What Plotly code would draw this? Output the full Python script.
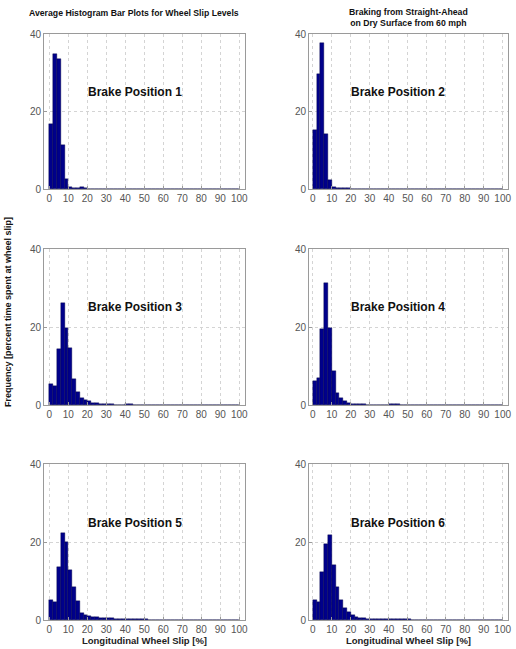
import plotly.graph_objects as go

# Bin centers (2 % wide bins from 0 to 100)
bin_centers = [1 + 2 * i for i in range(50)]

def pad(vals):
    return vals + [0.0] * (50 - len(vals))

pos1 = pad([16.8, 34.8, 33.5, 11.4, 2.6, 0.6, 0.3, 0.2, 0.5, 0.3, 0.1, 0.05])
pos2 = pad([15.1, 29.7, 37.8, 14.1, 2.3, 0.6, 0.3, 0.2, 0.3, 0.3, 0.1, 0.05])
pos3 = pad([5.4, 4.9, 14.3, 26.2, 19.7, 14.7, 6.6, 3.4, 1.7, 1.2, 0.9, 0.6, 0.45, 0.35, 0.25,
            0.2, 0.15, 0.12, 0.1, 0.1, 0.15, 0.3, 0.1, 0.08, 0.06, 0.05, 0.05, 0.04, 0.04, 0.04,
            0.03, 0.03, 0.03, 0.03, 0.05])
pos4 = pad([6.2, 7.0, 19.4, 31.4, 19.7, 8.7, 3.2, 1.7, 1.0, 0.6, 0.35, 0.25, 0.3, 0.15, 0.1,
            0.1, 0.08, 0.08, 0.06, 0.1, 0.15, 0.2, 0.15, 0.1, 0.08, 0.06, 0.05, 0.05, 0.05, 0.1,
            0.05, 0.04, 0.04, 0.04, 0.04, 0.04, 0.04, 0.04, 0.04, 0.1])
pos5 = pad([5.1, 4.5, 13.5, 22.3, 20.0, 12.8, 8.4, 5.0, 1.8, 1.3, 1.0, 0.8, 0.7, 0.6, 0.55,
            0.5, 0.5, 0.3, 0.25, 0.2, 0.2, 0.2, 0.2, 0.25, 0.2, 0.15, 0.1, 0.1, 0.1, 0.1,
            0.08, 0.08, 0.08, 0.08, 0.1, 0.08, 0.06, 0.06, 0.06, 0.06, 0.06, 0.06, 0.06, 0.06, 0.08])
pos6 = pad([5.1, 4.7, 12.4, 19.4, 21.8, 14.1, 8.5, 5.1, 3.2, 2.0, 1.3, 0.85, 0.6, 0.4, 0.35,
            0.3, 0.3, 0.25, 0.2, 0.2, 0.2, 0.25, 0.2, 0.2, 0.25, 0.15, 0.1, 0.1, 0.1, 0.1,
            0.1, 0.08, 0.08, 0.08, 0.06, 0.06, 0.1, 0.06, 0.06, 0.1, 0.08, 0.08, 0.08, 0.08, 0.1,
            0.06, 0.06, 0.04, 0.04])
series = [pos1, pos2, pos3, pos4, pos5, pos6]
panel_labels = ["Brake Position 1", "Brake Position 2", "Brake Position 3",
                "Brake Position 4", "Brake Position 5", "Brake Position 6"]
x_ticks = [0, 10, 20, 30, 40, 50, 60, 70, 80, 90, 100]
y_ticks = [0, 20, 40]

W, H = 516, 649
col_px = [(44, 245), (309, 508)]
row_px = [(34, 189), (249, 405), (464, 620)]
x_ranges = [[-2.8, 103.0], [-1.95, 102.8]]

FONT = "Liberation Sans, Arial, sans-serif"
BAR = "#00008B"

fig = go.Figure()
layout = dict(
    width=W, height=H, margin=dict(l=0, r=0, t=0, b=0, autoexpand=False),
    paper_bgcolor="white", plot_bgcolor="white", showlegend=False,
    bargap=0, font=dict(family=FONT),
)
annotations = []
for i, vals in enumerate(series):
    r, c = divmod(i, 2)
    n = "" if i == 0 else str(i + 1)
    fig.add_trace(go.Bar(
        x=bin_centers, y=vals, width=2,
        marker=dict(color=BAR, line=dict(color="#000040", width=0.4)),
        xaxis="x" + n, yaxis="y" + n, hoverinfo="skip",
    ))
    x0, x1 = col_px[c]
    y0, y1 = row_px[r]
    axis_common = dict(
        showline=True, mirror=True, linecolor="#9a9a9a", linewidth=1,
        showgrid=True, gridcolor="#d4d4d4", griddash="dot", gridwidth=1,
        ticks="inside", ticklen=3, tickcolor="#9a9a9a",
        tickfont=dict(family=FONT, size=10, color="#555555"),
        zeroline=False, fixedrange=True, automargin=False,
    )
    layout["xaxis" + n] = dict(
        axis_common, domain=[x0 / W, x1 / W], range=x_ranges[c],
        tickvals=x_ticks, anchor="y" + n,
    )
    layout["yaxis" + n] = dict(
        axis_common, domain=[1 - y1 / H, 1 - y0 / H], range=[0, 40],
        tickvals=y_ticks, anchor="x" + n,
    )
    if r == 2:
        layout["xaxis" + n]["title"] = dict(
            text="<b>Longitudinal Wheel Slip [%]</b>",
            font=dict(family=FONT, size=9.5, color="#222222"), standoff=2)
    annotations.append(dict(
        x=45, y=25, xref="x" + n, yref="y" + n, text="<b>" + panel_labels[i] + "</b>",
        xanchor="center", yanchor="middle",
        showarrow=False, font=dict(family=FONT, size=12, color="#111111"),
    ))

annotations.append(dict(
    x=134 / W, y=1 - 13 / H, xref="paper", yref="paper",
    xanchor="center", yanchor="middle",
    text="<b>Average Histogram Bar Plots for Wheel Slip Levels</b>",
    showarrow=False, font=dict(family=FONT, size=8.7, color="#111111"),
))
annotations.append(dict(
    x=408 / W, y=1 - 18 / H, xref="paper", yref="paper",
    xanchor="center", yanchor="middle",
    text="<b>Braking from Straight-Ahead<br>on Dry Surface from 60 mph</b>",
    showarrow=False, font=dict(family=FONT, size=8.7, color="#111111"),
))
annotations.append(dict(
    x=8 / W, y=1 - 312 / H, xref="paper", yref="paper",
    xanchor="center", yanchor="middle",
    text="<b>Frequency [percent time spent at wheel slip]</b>", textangle=-90,
    showarrow=False, font=dict(family=FONT, size=9, color="#111111"),
))
layout["annotations"] = annotations
fig.update_layout(**layout)
fig.write_html("out.html")
